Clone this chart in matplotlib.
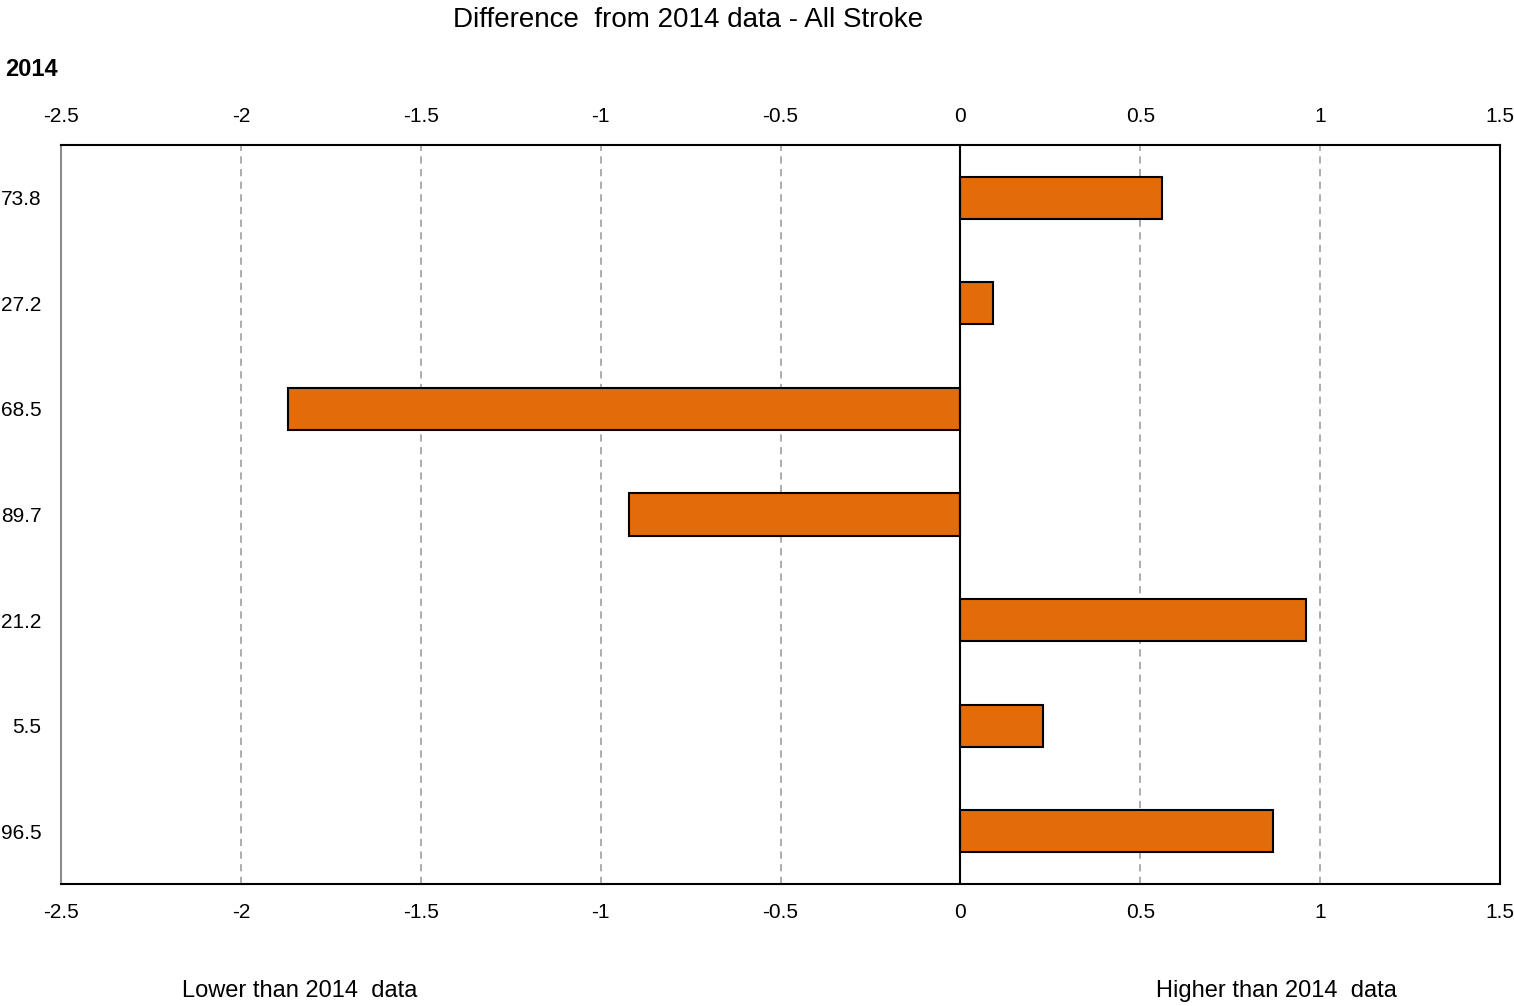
import matplotlib.pyplot as plt
from matplotlib import font_manager

# Datos del gráfico
categories = ['73.8', '27.2', '68.5', '89.7', '21.2', '5.5', '96.5']
differences = [0.56, 0.09, -1.87, -0.92, 0.96, 0.23, 0.87]
xticks = [-2.5, -2, -1.5, -1, -0.5, 0, 0.5, 1, 1.5]
xtick_labels = ['-2.5', '-2', '-1.5', '-1', '-0.5', '0', '0.5', '1', '1.5']

names = {f.name for f in font_manager.fontManager.ttflist}
narrow = 'Liberation Sans Narrow' if 'Liberation Sans Narrow' in names else 'Liberation Sans'
plt.rcParams['font.family'] = [narrow, 'DejaVu Sans']

fig = plt.figure(figsize=(15.14, 10.06), dpi=100)
ax = fig.add_axes([61 / 1514, 1 - 884 / 1006, (1500 - 61) / 1514, (884 - 145) / 1006])

pos = list(range(len(categories)))
ax.barh(pos, differences, height=0.4, color='#E36C0A', edgecolor='black', linewidth=1.5, zorder=3)

ax.set_xlim(-2.5, 1.5)
ax.set_ylim(len(categories) - 0.5, -0.5)
ax.set_xticks(xticks)
ax.set_xticklabels(xtick_labels)
ax.set_yticks(pos)
ax.set_yticklabels(categories)
ax.tick_params(axis='x', top=True, labeltop=True, length=0, pad=14, labelsize=15)
ax.tick_params(axis='y', length=0, pad=14, labelsize=15)

for x in xticks[1:-1]:
    ax.axvline(x, color='#a6a6a6', linestyle=(0, (4, 3)), linewidth=1.3, zorder=1)
ax.axvline(0, color='black', linewidth=1.5, zorder=4)

ax.spines['left'].set_color('#8c8c8c')
ax.spines['left'].set_linewidth(1.5)
for s in ['top', 'bottom', 'right']:
    ax.spines[s].set_color('black')
    ax.spines[s].set_linewidth(1.5)

fig.text(688 / 1514, 1 - 20 / 1006, 'Difference  from 2014 data - All Stroke', ha='center', va='center', fontsize=20)
fig.text(5 / 1514, 1 - 69 / 1006, '2014', ha='left', va='center', fontsize=17, fontweight='bold',
         family=['Liberation Sans', 'DejaVu Sans'])
fig.text(300 / 1514, 1 - 991 / 1006, 'Lower than 2014  data', ha='center', va='center', fontsize=17)
fig.text(1276 / 1514, 1 - 991 / 1006, 'Higher than 2014  data', ha='center', va='center', fontsize=17)

fig.savefig('out.png', dpi=100)
